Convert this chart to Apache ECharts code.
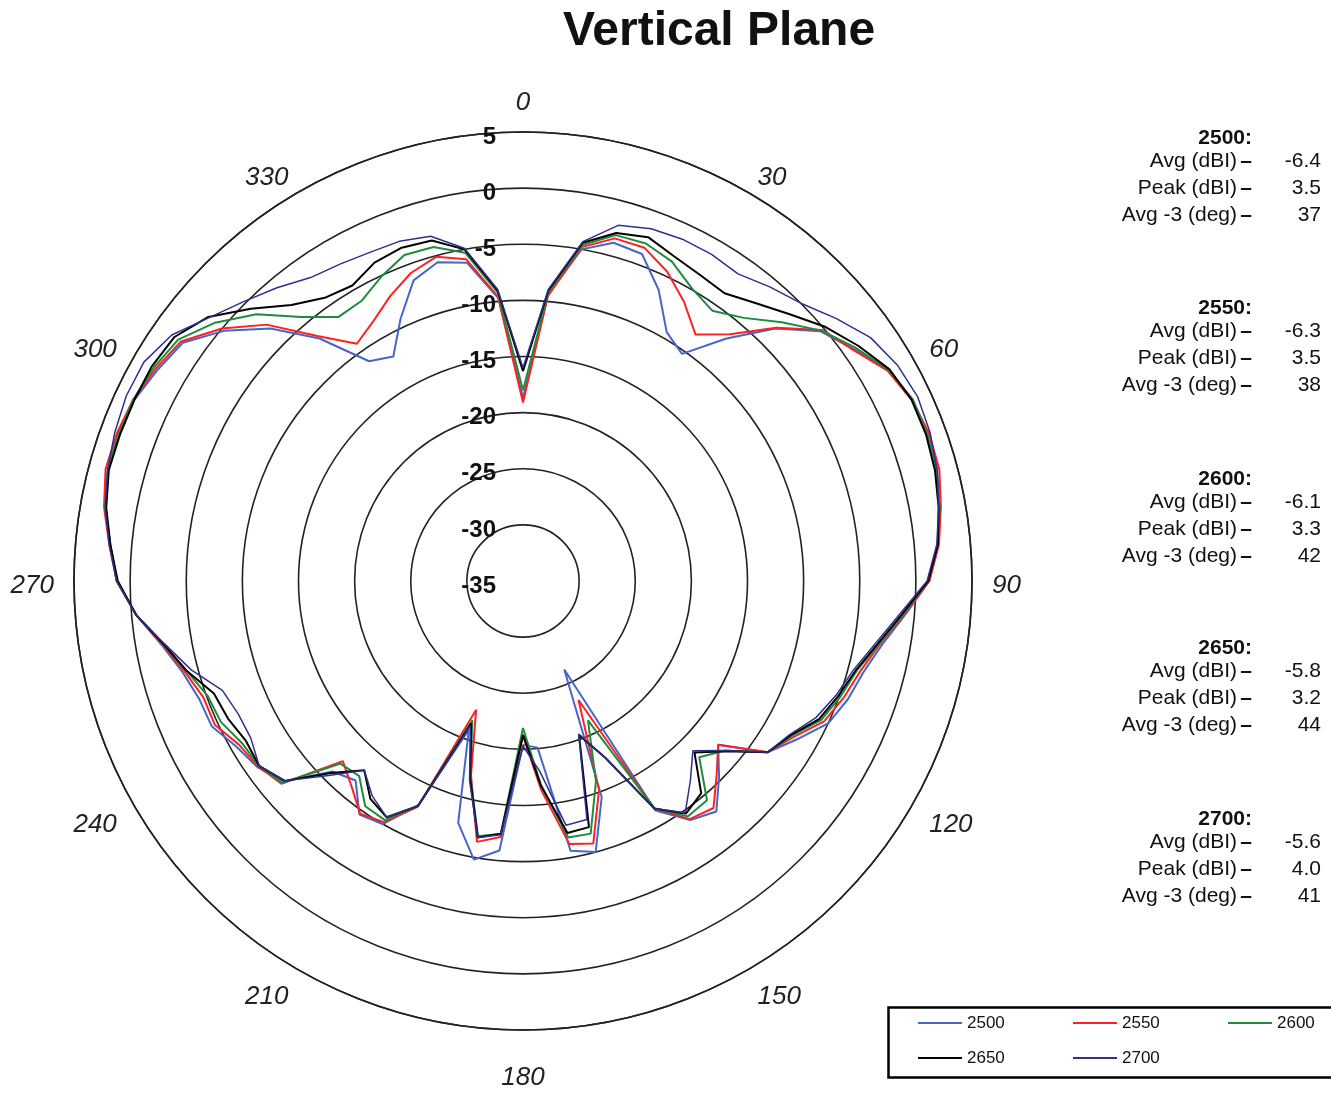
<!DOCTYPE html>
<html>
<head>
<meta charset="utf-8">
<script src="https://cdn.jsdelivr.net/npm/echarts@6/dist/echarts.min.js"></script>
<style>
html,body{margin:0;padding:0;background:#fff;}
#chart{width:1331px;height:1093px;}
</style>
</head>
<body>
<div id="chart"></div>
<script>
// ---- data ----
const angles = [0,5,10,15,20,25,30,35,40,45,50,55,60,65,70,75,80,85,90,95,100,105,110,115,
  120,125,130,135,140,145,150,155,160,165,170,175,180,185,190,195,200,205,210,215,220,225,
  230,235,240,245,250,255,260,265,270,275,280,285,290,295,300,305,310,315,320,325,330,335,340,345,350,355];
const radiusTicks = [-35,-30,-25,-20,-15,-10,-5,0,5];
const angleTicks = [0,30,60,90,120,150,180,210,240,270,300,330];
const seriesNames = ['2500','2550','2600','2650','2700'];
const v2500 = [-18.7,-9.4,-5.0,-3.8,-4.0,-6.4,-9.4,-10.3,-6.8,-3.2,-0.4,1.0,2.6,3.3,3.4,3.2,2.7,2.1,1.2,-0.8,-2.5,-3.6,-4.2,-5.0,
  -6.8,-8.4,-12.3,-10.3,-8.2,-9.0,-11.4,-26.3,-14.5,-10.0,-10.6,-20.1,-20.4,-10.9,-9.8,-12.7,-20.9,-13.0,-10.0,-9.6,-11.8,-11.0,
  -7.2,-6.1,-5.5,-4.4,-4.3,-3.6,-2.3,-0.4,1.2,1.9,2.8,3.3,3.4,3.2,2.6,2.0,-0.3,-3.2,-6.8,-11.1,-11.9,-9.2,-6.5,-5.6,-6.2,-9.7];
const v2550 = [-19.1,-9.5,-4.8,-3.4,-3.4,-4.6,-6.3,-8.2,-6.3,-3.1,-0.2,0.9,2.5,3.2,3.5,3.4,2.8,2.2,1.2,-0.9,-2.7,-3.9,-4.6,-5.4,
  -7.2,-8.4,-12.3,-10.6,-8.6,-9.1,-11.6,-23.3,-15.2,-10.8,-11.2,-16.3,-21.2,-12.1,-11.4,-17.1,-22.8,-12.8,-10.2,-9.7,-11.2,-12.3,
  -6.9,-6.2,-5.8,-4.7,-4.7,-3.8,-2.4,-0.4,1.2,2.0,2.9,3.5,3.5,3.3,2.8,2.2,0.0,-2.7,-6.5,-9.2,-8.3,-7.0,-5.8,-5.1,-5.9,-9.6];
const v2600 = [-18.0,-9.2,-4.6,-3.1,-3.0,-3.6,-4.9,-5.6,-4.4,-2.4,-0.3,1.2,2.6,3.3,3.3,3.1,2.7,2.1,1.1,-1.0,-2.8,-4.2,-4.9,-5.7,
  -7.4,-8.4,-11.5,-12.8,-9.5,-9.4,-11.6,-21.3,-16.0,-11.7,-11.8,-16.8,-21.9,-12.4,-11.9,-16.9,-21.8,-12.9,-10.4,-10.5,-12.3,-12.0,
  -7.0,-6.3,-6.1,-5.3,-5.1,-4.0,-2.5,-0.4,1.2,1.9,2.8,3.3,3.3,3.3,3.0,2.5,0.8,-1.4,-4.3,-6.3,-6.2,-5.1,-4.1,-4.2,-5.3,-9.2];
const v2650 = [-16.3,-9.0,-4.4,-2.9,-2.4,-3.1,-3.5,-3.7,-2.7,-1.4,0.2,1.5,2.7,3.2,3.2,3.0,2.6,2.1,1.1,-1.1,-2.9,-4.3,-5.1,-5.9,
  -7.5,-8.4,-11.4,-13.4,-10.3,-9.7,-11.6,-17.6,-20.4,-12.3,-12.2,-16.7,-21.3,-12.4,-11.8,-16.8,-21.5,-12.9,-10.7,-11.3,-13.0,-10.8,
  -7.3,-6.3,-6.5,-6.0,-5.7,-4.0,-2.5,-0.4,1.1,1.9,2.7,3.2,3.2,3.2,3.2,2.9,1.6,-0.7,-2.9,-4.2,-4.6,-3.7,-3.4,-3.6,-5.0,-9.0];
const v2700 = [-16.0,-8.9,-4.3,-2.2,-1.6,-1.4,-1.4,-1.6,-0.8,0.0,1.4,2.8,3.5,3.8,3.6,3.2,2.6,2.0,1.0,-1.3,-3.1,-4.5,-5.3,-6.2,
  -7.6,-8.4,-11.5,-13.6,-11.8,-9.8,-11.6,-17.6,-20.5,-13.0,-12.9,-18.0,-20.3,-12.3,-11.8,-16.6,-21.3,-12.9,-10.7,-11.6,-13.0,-10.5,
  -7.3,-6.3,-7.0,-7.0,-6.5,-4.4,-2.6,-0.4,1.2,2.0,2.8,3.3,3.7,4.0,4.0,3.2,1.5,0.2,-0.9,-2.0,-2.4,-2.7,-2.8,-3.2,-4.9,-8.9];
const seriesValues = [v2500, v2550, v2600, v2650, v2700];
const seriesColors = ['#4666c8','#ff2020','#1e8c3c','#000000','#2f2f8f'];
const statHeaders = ['2500:','2550:','2600:','2650:','2700:'];
const statLabels = ['Avg (dBI)','Peak (dBI)','Avg -3 (deg)'];
const avgDbi = ['-6.4','-6.3','-6.1','-5.8','-5.6'];
const peakDbi = ['3.5','3.5','3.3','3.2','4.0'];
const avg3Deg = ['37','38','42','44','41'];

// ---- chart ----
const chart = echarts.init(document.getElementById('chart'), null, {renderer:'canvas'});
const FONT = 'Liberation Sans, Arial, sans-serif';

const series = seriesNames.map((name, s) => {
  const vals = seriesValues[s];
  const data = vals.map((v, i) => [v, angles[i]]);
  data.push([vals[0], 360]);
  return {
    name: name,
    type: 'line',
    coordinateSystem: 'polar',
    data: data,
    showSymbol: false,
    symbol: 'none',
    z: 3 + s,
    lineStyle: { color: seriesColors[s], width: s === 4 ? 1.5 : 2 },
    itemStyle: { color: seriesColors[s] },
    animation: false
  };
});

const graphics = [];
const blockTop = [138, 308, 479, 648, 819];
const rowOff = [0, 23, 50, 77];
statHeaders.forEach((h, b) => {
  graphics.push({ type:'text', x:1252, y:blockTop[b] + rowOff[0], style:{ text:h, font:'bold 21px ' + FONT, fill:'#111', textAlign:'right', textVerticalAlign:'middle' } });
  const vals = [avgDbi[b], peakDbi[b], avg3Deg[b]];
  statLabels.forEach((lab, r) => {
    graphics.push({ type:'text', x:1252, y:blockTop[b] + rowOff[r+1], style:{
      text:'{a|' + lab + '} {b|\u2013}', textAlign:'right', textVerticalAlign:'middle',
      rich:{ a:{ font:'21px ' + FONT, fill:'#111' }, b:{ font:'bold 21px ' + FONT, fill:'#111' } } } });
    graphics.push({ type:'text', x:1321, y:blockTop[b] + rowOff[r+1], style:{ text:vals[r], font:'21px ' + FONT, fill:'#111', textAlign:'right', textVerticalAlign:'middle' } });
  });
});
graphics.push({ type:'rect', left:886, top:1005, shape:{ width:480, height:70 }, style:{ fill:'none', stroke:'#000', lineWidth:2.5 } });

const angStyle = { fontFamily: FONT, fontStyle: 'italic', fontSize: 26, color: '#222', lineHeight: 28 };
chart.setOption({
  backgroundColor: '#fff',
  animation: false,
  title: {
    text: 'Vertical Plane',
    left: 714, top: 3, textAlign: 'center',
    textStyle: { fontFamily: FONT, fontWeight: 'bold', fontSize: 48, color: '#111' }
  },
  polar: { center: [523, 581], radius: 449 },
  angleAxis: {
    type: 'value', min: 0, max: 360, interval: 30, startAngle: 90, clockwise: true,
    axisLine: { show: true, lineStyle: { color: '#222', width: 1.6 } },
    axisTick: { show: false },
    splitLine: { show: false },
    axisLabel: {
      fontFamily: FONT, fontStyle: 'italic', fontSize: 26, color: '#222', margin: 20,
      formatter: v => {
        if (angleTicks.indexOf(v) < 0) return '';
        if (v === 30 || v === 330 || v === 60 || v === 300) return '{u|' + v + '}';
        if (v === 180) return '{d|' + v + '}';
        if (v === 0 || v === 90 || v === 270) return '{m|' + v + '}';
        return '{l|' + v + '}';
      },
      rich: {
        m: Object.assign({}, angStyle, { padding: [9, 0, 0, 0] }),
        l: Object.assign({}, angStyle, { padding: [0, 0, 9, 0] }),
        u: Object.assign({}, angStyle, { padding: [34, 0, 0, 0] }),
        d: Object.assign({}, angStyle, { padding: [28, 0, 0, 0] })
      }
    }
  },
  radiusAxis: {
    type: 'value', min: radiusTicks[0], max: radiusTicks[radiusTicks.length-1], interval: 5,
    axisLine: { show: false },
    axisTick: { show: false },
    splitLine: { show: true, lineStyle: { color: '#222', width: 1.6 } },
    axisLabel: {
      margin: 27, showMinLabel: true, showMaxLabel: true,
      formatter: v => '{r|' + v + '}',
      rich: { r: { fontFamily: FONT, fontWeight: 'bold', fontSize: 24, color: '#111', lineHeight: 26, padding: [10, 0, 0, 0] } }
    }
  },
  legend: {
    data: seriesNames,
    left: 913, top: 1003, width: 470,
    orient: 'horizontal',
    icon: 'rect', itemWidth: 44, itemHeight: 2, itemGap: 5,
    textStyle: { fontFamily: FONT, fontSize: 17, color: '#111', width: 101, lineHeight: 30 }
  },
  graphic: graphics,
  series: series
});
</script>
</body>
</html>
